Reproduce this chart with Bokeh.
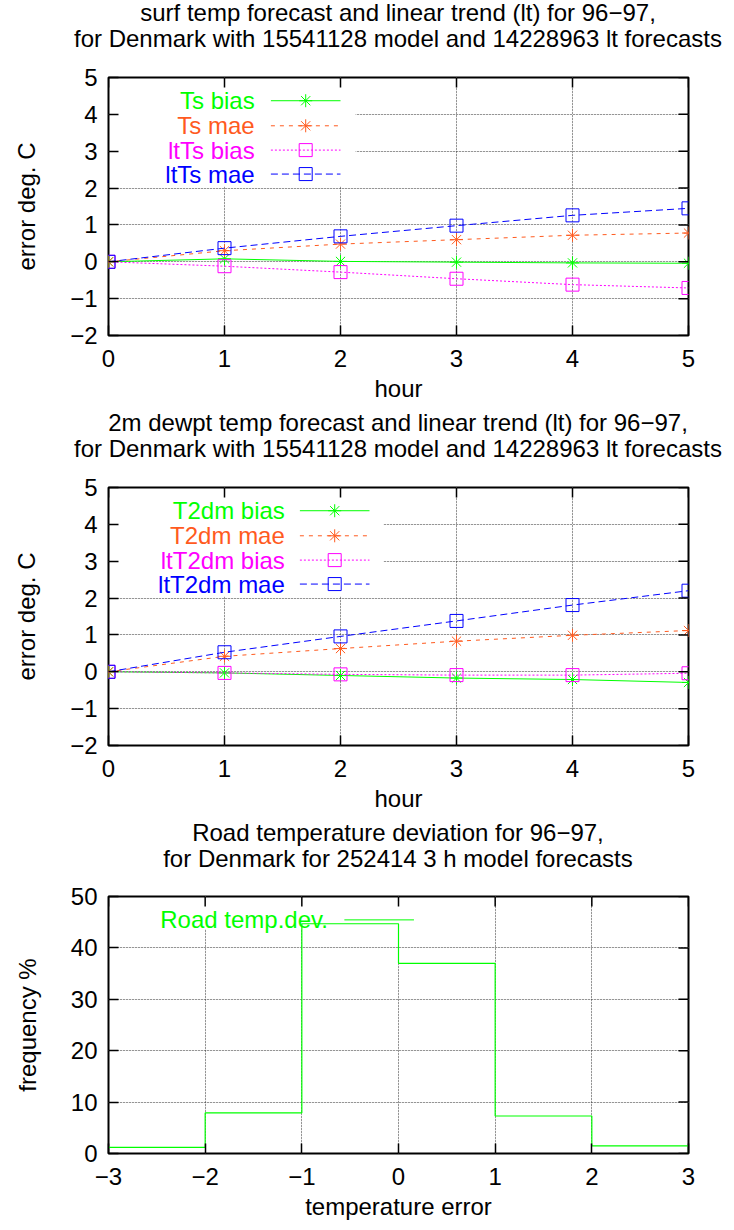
from bokeh.plotting import figure
from bokeh.models import Range1d, LinearAxis, FixedTicker, Grid, Div
from bokeh.layouts import column
from bokeh.embed import file_html
from bokeh.resources import INLINE
from bokeh.core.properties import value

# ---------------- data ----------------
hours = [0, 1, 2, 3, 4, 5]
ts_bias = [0.0, 0.08, 0.01, -0.01, -0.03, -0.04]
ts_mae = [0.0, 0.30, 0.48, 0.60, 0.72, 0.78]
lt_ts_bias = [0.0, -0.12, -0.28, -0.46, -0.62, -0.71]
lt_ts_mae = [0.0, 0.37, 0.69, 0.98, 1.26, 1.45]

t2dm_bias = [0.0, -0.03, -0.10, -0.17, -0.21, -0.29]
t2dm_mae = [0.0, 0.42, 0.63, 0.83, 0.99, 1.12]
lt_t2dm_bias = [0.0, -0.03, -0.07, -0.09, -0.09, -0.04]
lt_t2dm_mae = [0.0, 0.53, 0.96, 1.38, 1.81, 2.20]

bin_edges = [-3, -2, -1, 0, 1, 2, 3]
road_freq = [1.2, 7.9, 44.7, 37.0, 7.3, 1.5]

hour_ticks = [0, 1, 2, 3, 4, 5]
hour_tick_labels = ["0", "1", "2", "3", "4", "5"]
err_ticks = [-2, -1, 0, 1, 2, 3, 4, 5]
err_tick_labels = ["\u22122", "\u22121", "0", "1", "2", "3", "4", "5"]
dev_ticks = [-3, -2, -1, 0, 1, 2, 3]
dev_tick_labels = ["\u22123", "\u22122", "\u22121", "0", "1", "2", "3"]
freq_ticks = [0, 10, 20, 30, 40, 50]
freq_tick_labels = ["0", "10", "20", "30", "40", "50"]

# ---------------- style ----------------
FONT = "Liberation Sans"
FS = "24px"
GREEN = "#00ff00"
ORANGE = "#ff5a1e"
MAGENTA = "#ff00ff"
BLUE = "#0000ff"
W = 734
TITLE_H = 52
H = 410 - TITLE_H
BL, BR = 108, 46
TICK = 10


def title_div(line1, line2):
    html = ('<div style="width:%dpx;box-sizing:border-box;padding-left:%dpx;'
            'text-align:center;font-family:\'%s\';font-size:%s;line-height:26px;'
            'color:black;white-space:nowrap;">%s<br>%s</div>'
            % (W, BL - BR, FONT, FS, line1, line2))
    return Div(text=html, width=W, height=TITLE_H, margin=0)


def make_axis(ticks, labels, axis_label, label_standoff, label_axis_standoff):
    return LinearAxis(
        ticker=FixedTicker(ticks=ticks, minor_ticks=[]),
        major_label_overrides=dict(zip(ticks, labels)),
        major_tick_in=TICK, major_tick_out=0,
        major_tick_line_color="black", major_tick_line_width=1.5,
        minor_tick_line_color=None,
        axis_line_color=None,
        major_label_text_font=FONT,
        major_label_text_font_size=FS,
        major_label_text_color="black",
        major_label_standoff=label_standoff,
        axis_label=axis_label,
        axis_label_text_font=FONT,
        axis_label_text_font_size=FS,
        axis_label_text_font_style="normal",
        axis_label_text_color="black",
        axis_label_standoff=label_axis_standoff,
    )


def make_fig(xr, yr, xt, xtl, yt, ytl, xlabel, ylabel, top, bottom):
    p = figure(width=W, height=H, x_range=Range1d(*xr), y_range=Range1d(*yr),
               output_backend="svg", toolbar_location=None, title=None,
               x_axis_location=None, y_axis_location=None,
               min_border_left=BL, min_border_right=BR,
               min_border_top=top, min_border_bottom=bottom, margin=0)
    p.background_fill_color = "white"
    p.border_fill_color = "white"
    p.outline_line_color = "black"
    p.outline_line_width = 2
    p.add_layout(make_axis(xt, xtl, xlabel, 14, 5), "below")
    p.add_layout(make_axis(yt, ytl, ylabel, 11, 27), "left")
    for dim, ticks in ((0, xt[1:-1]), (1, yt[1:-1])):
        p.add_layout(Grid(dimension=dim, ticker=FixedTicker(ticks=ticks, minor_ticks=[]),
                          grid_line_color="black", grid_line_alpha=0.7,
                          grid_line_dash="1 2", grid_line_width=1))
    fw = W - BL - BR
    fh = H - top - bottom
    px_x = (xr[1] - xr[0]) / fw
    px_y = (yr[1] - yr[0]) / fh
    return p, px_x, px_y


def mirror_ticks(p, xr, yr, xt, yt, px_x, px_y):
    # gnuplot-style inward ticks mirrored on the right and top edges
    p.segment(x0=[xr[1]] * len(yt), y0=yt, x1=[xr[1] - TICK * px_x] * len(yt), y1=yt,
              line_color="black", line_width=1.5)
    p.segment(x0=xt, y0=[yr[1]] * len(xt), x1=xt, y1=[yr[1] - TICK * px_y] * len(xt),
              line_color="black", line_width=1.5)


def key_box(p, xr, yr, right, bottom, px_x, px_y):
    p.quad(left=[xr[0] + 1.5 * px_x], right=[right], bottom=[bottom],
           top=[yr[1] - 1.5 * px_y], fill_color="white", line_color=None)


def legend_entry(p, xt, x0, x1, row, name, color, dash, marker):
    p.text(x=[xt], y=[row], text=[name], text_align="right", text_baseline="middle",
           text_color=color, text_font=value(FONT), text_font_size=FS)
    p.line([x0, x1], [row, row], line_color=color, line_dash=dash, line_width=1)
    if marker:
        p.scatter([(x0 + x1) / 2], [row], marker=marker, size=13,
                  line_color=color, fill_color=None, line_width=1)


def line_panel(series, leg):
    xr, yr = (0, 5), (-2, 5)
    p, px_x, px_y = make_fig(xr, yr, hour_ticks, hour_tick_labels,
                             err_ticks, err_tick_labels, "hour", "error deg. C", 25, 75)
    xt, x0, x1, box_r, rows = leg
    key_box(p, xr, yr, box_r, 2.05, px_x, px_y)
    for (name, ys, color, dash, marker), row in zip(series, rows):
        p.line(hours, ys, line_color=color, line_dash=dash, line_width=1)
        p.scatter(hours, ys, marker=marker, size=13, line_color=color,
                  fill_color=None, line_width=1)
        legend_entry(p, xt, x0, x1, row, name, color, dash, marker)
    mirror_ticks(p, xr, yr, hour_ticks, err_ticks, px_x, px_y)
    return p


rows = [4.37, 3.69, 3.03, 2.38]
d1 = title_div("surf temp forecast and linear trend (lt) for 96\u221297,",
               "for Denmark with 15541128 model and 14228963 lt forecasts")
p1 = line_panel(
    [("Ts bias", ts_bias, GREEN, "solid", "asterisk"),
     ("Ts mae", ts_mae, ORANGE, "4 5", "asterisk"),
     ("ltTs bias", lt_ts_bias, MAGENTA, "2 2", "square"),
     ("ltTs mae", lt_ts_mae, BLUE, "7 4", "square")],
    (1.26, 1.40, 2.00, 2.13, rows))

d2 = title_div("2m dewpt temp forecast and linear trend (lt) for 96\u221297,",
               "for Denmark with 15541128 model and 14228963 lt forecasts")
p2 = line_panel(
    [("T2dm bias", t2dm_bias, GREEN, "solid", "asterisk"),
     ("T2dm mae", t2dm_mae, ORANGE, "4 5", "asterisk"),
     ("ltT2dm bias", lt_t2dm_bias, MAGENTA, "2 2", "square"),
     ("ltT2dm mae", lt_t2dm_mae, BLUE, "7 4", "square")],
    (1.52, 1.65, 2.25, 2.37, rows))

d3 = title_div("Road temperature deviation for 96\u221297,",
               "for Denmark for 252414 3 h model forecasts")
xr3, yr3 = (-3, 3), (0, 50)
p3, px3, py3 = make_fig(xr3, yr3, dev_ticks, dev_tick_labels, freq_ticks, freq_tick_labels,
                        "temperature error", "frequency %", 24, 77)
key_box(p3, xr3, yr3, 0.3, 43.7, px3, py3)
p3.step(x=bin_edges, y=road_freq + [0], mode="after", line_color=GREEN, line_width=1.2)
legend_entry(p3, -0.73, -0.56, 0.16, 45.45, "Road temp.dev.", GREEN, "solid", None)
mirror_ticks(p3, xr3, yr3, dev_ticks, freq_ticks, px3, py3)

layout = column(d1, p1, d2, p2, d3, p3, spacing=0)
html = file_html(layout, INLINE)
html = html.replace("<head>", "<head><style>html,body{margin:0;padding:0;}</style>", 1)
open("out.html", "w").write(html)
